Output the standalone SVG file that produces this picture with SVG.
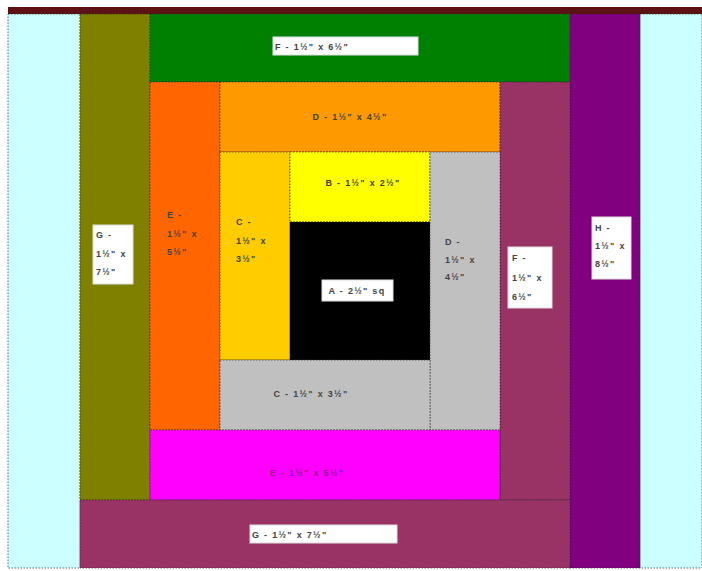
<svg xmlns="http://www.w3.org/2000/svg" width="702" height="571" viewBox="0 0 702 571">
<style>
  .p { stroke: #2a2a2a; stroke-width: 1; stroke-dasharray: 1.5 1.5; stroke-opacity: 0.7; }
  .box { fill: #ffffff; stroke: #dddddd; stroke-width: 1; }
  text { font-family: "Liberation Sans", Arial, sans-serif; font-size: 9px; font-weight: bold; letter-spacing: 1.3px; fill: #444444; }
  .c { text-anchor: middle; }
</style>
<rect x="0" y="0" width="702" height="571" fill="#ffffff"/>
<rect x="8" y="7" width="694" height="7" fill="#5c1212"/>
<g id="margin-left"><rect class="p" x="8" y="14" width="72" height="554" fill="#ccffff"/></g>
<g id="margin-right"><rect class="p" x="640" y="14" width="62" height="554" fill="#ccffff"/></g>
<g id="G-left">
  <rect class="p" x="80" y="14" width="70" height="486" fill="#808000"/>
  <rect class="box" x="93" y="225" width="40" height="59"/>
  <text x="96" y="238">G -</text><text x="96" y="257">1½" x</text><text x="96" y="275">7½"</text>
</g>
<g id="F-top">
  <rect class="p" x="150" y="14" width="420" height="68" fill="#008000"/>
  <rect class="box" x="273" y="37" width="145" height="18"/>
  <text x="275" y="50">F - 1½" x 6½"</text>
</g>
<g id="H-right">
  <rect class="p" x="570" y="14" width="70" height="554" fill="#800080"/>
  <rect class="box" x="592" y="217" width="39" height="62"/>
  <text x="595" y="231">H -</text><text x="595" y="249">1½" x</text><text x="595" y="267">8½"</text>
</g>
<g id="E-left">
  <rect class="p" x="150" y="82" width="70" height="348" fill="#ff6600"/>
  <text x="167" y="218">E -</text><text x="167" y="237">1½" x</text><text x="167" y="255">5½"</text>
</g>
<g id="D-top">
  <rect class="p" x="220" y="82" width="280" height="70" fill="#ff9900"/>
  <text class="c" x="350" y="120">D - 1½" x 4½"</text>
</g>
<g id="F-right">
  <rect class="p" x="500" y="82" width="70" height="418" fill="#993366"/>
  <rect class="box" x="508" y="247" width="44" height="61"/>
  <text x="512" y="261">F -</text><text x="512" y="281">1½" x</text><text x="512" y="300">6½"</text>
</g>
<g id="C-left">
  <rect class="p" x="220" y="152" width="70" height="208" fill="#ffcc00"/>
  <text x="236" y="225">C -</text><text x="236" y="244">1½" x</text><text x="236" y="262">3½"</text>
</g>
<g id="B">
  <rect class="p" x="290" y="152" width="140" height="70" fill="#ffff00"/>
  <text class="c" x="363" y="186">B - 1½" x 2½"</text>
</g>
<g id="A">
  <rect class="p" x="290" y="222" width="140" height="138" fill="#000000"/>
  <rect class="box" x="322" y="280" width="71" height="21"/>
  <text class="c" x="357" y="294">A - 2½" sq</text>
</g>
<g id="D-right">
  <rect class="p" x="430" y="152" width="70" height="278" fill="#c0c0c0"/>
  <text x="445" y="245">D -</text><text x="445" y="263">1½" x</text><text x="445" y="280">4½"</text>
</g>
<g id="C-bottom">
  <rect class="p" x="220" y="360" width="210" height="70" fill="#c0c0c0"/>
  <text class="c" x="311" y="397">C - 1½" x 3½"</text>
</g>
<g id="E-bottom">
  <rect class="p" x="150" y="430" width="350" height="70" fill="#ff00ff"/>
  <text class="c" x="307" y="476" style="fill:#8a1f9a">E - 1½" x 5½"</text>
</g>
<g id="G-bottom">
  <rect class="p" x="80" y="500" width="490" height="68" fill="#993366"/>
  <rect class="box" x="250" y="525" width="147" height="18"/>
  <text x="252" y="538">G - 1½" x 7½"</text>
</g>
</svg>
